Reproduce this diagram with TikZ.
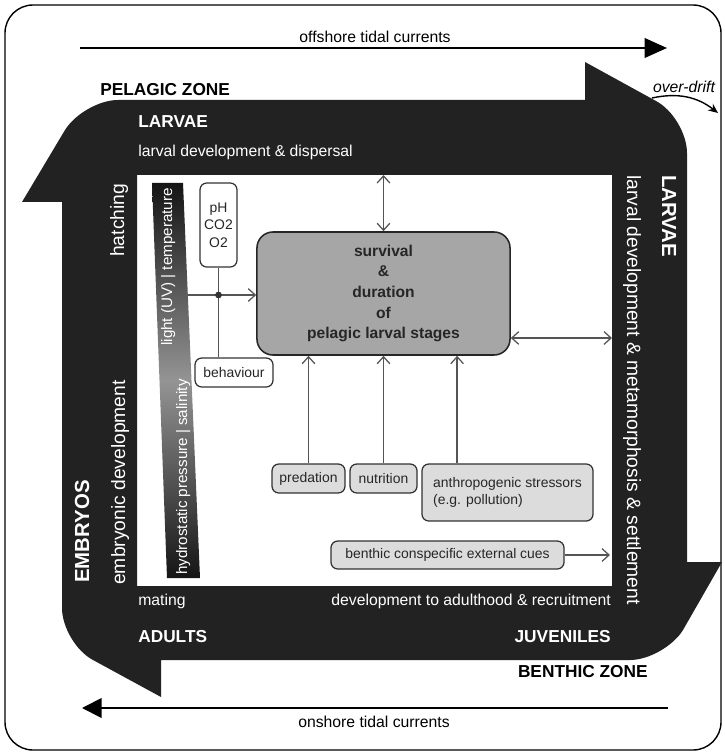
\documentclass[tikz,border=0pt]{standalone}
\usepackage{fontspec}
\setmainfont{Liberation Sans}
\usetikzlibrary{arrows.meta}
\definecolor{band}{HTML}{222222}
\definecolor{mainfill}{HTML}{A6A6A6}
\definecolor{boxfill}{HTML}{DCDCDC}
\definecolor{wiregray}{HTML}{555555}
\tikzset{
  hlab/.style={inner sep=0pt, font=\fontsize{11.2}{13.4}\selectfont},
  hstage/.style={inner sep=0pt, font=\bfseries\fontsize{12.3}{14}\selectfont},
  vlab/.style={inner sep=0pt, font=\fontsize{13.7}{16}\selectfont},
  vstage/.style={inner sep=0pt, font=\bfseries\fontsize{14.5}{17}\selectfont},
  barlab/.style={inner sep=0pt, text=white, font=\fontsize{10.8}{13}\selectfont},
  factor/.style={draw=black!80, line width=0.9pt, rounded corners=0.17cm, inner sep=0pt,
    text=black!85, font=\fontsize{9.9}{12.6}\selectfont},
  mainbox/.style={draw=black!85, fill=mainfill, line width=1.1pt, rounded corners=0.4cm,
    minimum width=6.325cm, minimum height=3.075cm, align=center, text=black!85,
    font=\bfseries\fontsize{11.1}{14.7}\selectfont},
  wire/.style={draw=wiregray, line width=0.9pt}
}
\begin{document}
\begin{tikzpicture}[x=0.025cm, y=-0.025cm, >={Straight Barb[length=5pt,width=9pt]}]
  \useasboundingbox (0,0) rectangle (724,754);
  % frame and tidal currents
  \draw[line width=1pt, rounded corners=0.7cm] (5,5) rectangle (721,750);
  \coordinate (offW) at (80,48);
  \coordinate (offE) at (667,48);
  \coordinate (onE) at (668,708);
  \coordinate (onW) at (82,708);
  \draw[line width=1.4pt, -{Triangle[length=16pt,width=14pt]}] (offW) -- (offE);
  \draw[line width=1.4pt, -{Triangle[length=14pt,width=14pt]}] (onE) -- (onW);
  \node[hlab, anchor=base] (offtxt) at (375,43) {offshore tidal currents};
  \node[hlab, anchor=base] (ontxt) at (374,727) {onshore tidal currents};

  % life cycle band
  \fill[band, even odd rule]
    (118,100) -- (585,100) -- (585,62) -- (656,101)
    .. controls (673,110) and (687,134) .. (687,153) -- (687,562) -- (722,562) -- (683,630)
    .. controls (673,646) and (649,660) .. (630,660) -- (161,660) -- (161,697) -- (93,660)
    .. controls (76,651) and (62,627) .. (62,608) -- (62,202) -- (22,202) -- (65,130)
    .. controls (75,114) and (99,100) .. (118,100) -- cycle
    (137,175) rectangle (612,586);

  \coordinate (driftA) at (652,98);
  \coordinate (driftB) at (718,113);
  \draw[line width=1pt, -{Stealth[length=7pt,width=6pt]}] (driftA) to[bend left=25] (driftB);
  \node[hlab, anchor=base, font=\itshape\fontsize{11.2}{13.4}\selectfont] (overdrift) at (684,93) {over-drift};

  \node[hstage, anchor=base west] (pelagic) at (100,96) {PELAGIC ZONE};
  \node[hstage, anchor=base east] (benthic) at (648,677) {BENTHIC ZONE};
  \node[hstage, white, anchor=base west] (larvtop) at (138,128) {LARVAE};
  \node[hlab, white, anchor=base west] (dispersal) at (138,157) {larval development \& dispersal};
  \node[vstage, white, rotate=-90, anchor=base west] (larvright) at (662,175) {LARVAE};
  \node[vlab, white, rotate=-90, anchor=base west] (settle) at (627,175)
    {larval development \& metamorphosis \& settlement};
  \node[hlab, white, anchor=base east] (recruit) at (611,605) {development to adulthood \& recruitment};
  \node[hstage, white, anchor=base east] (juveniles) at (611,642) {JUVENILES};
  \node[hlab, white, anchor=base west] (mating) at (138,605) {mating};
  \node[hstage, white, anchor=base west] (adults) at (138,642) {ADULTS};
  \node[vstage, white, rotate=90, anchor=base west] (embryos) at (89,583) {EMBRYOS};
  \node[vlab, white, rotate=90, anchor=base west] (embdev) at (125,585) {embryonic development};
  \node[vlab, white, rotate=90, anchor=base west] (hatching) at (124,257) {hatching};

  % abiotic gradient
  \shade[top color=black!92, bottom color=black!92, middle color=black!42]
    (152,183) -- (183,183) -- (200,578) -- (167,578) -- cycle;
  \node[barlab, rotate=90, anchor=base west] (lighttemp) at (172,346) {light (UV) | temperature};
  \node[barlab, rotate=90, anchor=base west] (hydrosal) at (187,575) {hydrostatic pressure | salinity};

  % factors
  \node[mainbox] (main) at (383.5,293.5) {survival\\\&\\duration\\of\\pelagic larval stages};
  \node[factor, fill=white, minimum width=0.925cm, minimum height=2.1cm, align=center] (chem) at (218.5,225) {pH\\CO2\\O2};
  \node[factor, fill=white, minimum width=1.95cm, minimum height=0.725cm] (behav) at (234,372.5) {behaviour};
  \node[factor, fill=boxfill, minimum width=1.825cm, minimum height=0.725cm] (pred) at (308.5,478.5) {predation};
  \node[factor, fill=boxfill, minimum width=1.675cm, minimum height=0.725cm] (nutr) at (383.5,478.5) {nutrition};
  \node[factor, fill=boxfill, minimum width=4.275cm, minimum height=1.425cm, align=left] (anthro) at (507.5,492.5)
    {anthropogenic stressors\\(e.g. pollution)};
  \node[factor, fill=boxfill, minimum width=5.825cm, minimum height=0.7cm] (cues) at (447.5,555) {benthic conspecific external cues};

  \coordinate (topin) at (383.5,175);
  \coordinate (rightin) at (612,338);
  \coordinate (cuesin) at (610,555);
  \coordinate (barout) at (188,295);
  \coordinate (hub) at (218.5,295);

  \begin{scope}[wire]
    \draw[<->] (topin) -- (main.north);
    \draw[<->] (main.east |- rightin) -- (rightin);
    \draw[->] (pred) -- (pred |- main.south);
    \draw[->] (nutr) -- (nutr |- main.south);
    \draw[->] ([xshift=-1.26cm]anthro.north) -- ([xshift=-1.26cm]anthro.north |- main.south);
    \draw (chem) -- (chem |- behav.north);
    \draw[->] (barout) -- (barout -| main.west);
    \draw[->] (cues) -- (cuesin);
  \end{scope}
  \fill[black!80] (hub) circle (2.4pt);
\end{tikzpicture}
\end{document}
